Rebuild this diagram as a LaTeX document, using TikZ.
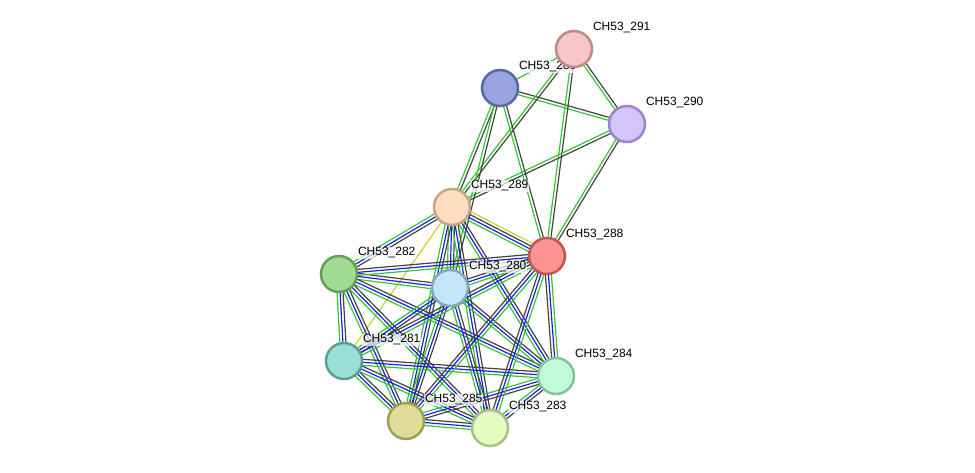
\documentclass[tikz,border=0pt]{standalone}
\usepackage{fontspec}
\setmainfont{Liberation Sans}
\usetikzlibrary{calc}
\definecolor{eg}{HTML}{33C833}
\definecolor{eb}{HTML}{1E1EE6}
\definecolor{ek}{HTML}{444444}
\definecolor{ey}{HTML}{C8D232}
\newcommand\pline[4]{\draw[#4,line width=1.2pt] ($(#1)!#3!90:(#2)$) -- ($(#2)!#3!-90:(#1)$);}
\newcommand\triedge[2]{\pline{#1}{#2}{-3pt}{eg}\pline{#1}{#2}{0pt}{eb}\pline{#1}{#2}{3pt}{ek}}
\newcommand\duoedge[2]{\pline{#1}{#2}{-1.5pt}{eg}\pline{#1}{#2}{1.5pt}{ek}}
\newcommand\quadedge[2]{\pline{#1}{#2}{-4.5pt}{eg}\pline{#1}{#2}{-1.5pt}{eb}\pline{#1}{#2}{1.5pt}{ek}\pline{#1}{#2}{4.5pt}{ey}}
\tikzset{
  prot/.style={circle, minimum size=36pt, inner sep=0pt, line width=2.5pt},
  lab/.style={anchor=west, font=\fontsize{12}{14}\selectfont, fill=white, fill opacity=0.7, text opacity=1, inner sep=0.8pt},
}
\begin{document}
\begin{tikzpicture}[x=1pt,y=-1pt]
\useasboundingbox (0,0) rectangle (975,473);
% positions
\coordinate (p291) at (574,49);
\coordinate (p286) at (500,88);
\coordinate (p290) at (627,124);
\coordinate (p289) at (452,207);
\coordinate (p288) at (547,256);
\coordinate (p282) at (339,274);
\coordinate (p280) at (450,288);
\coordinate (p281) at (344,361);
\coordinate (p284) at (556,376);
\coordinate (p285) at (406,421);
\coordinate (p283) at (490,428);
% edges
\pline{p286}{p291}{0pt}{eg}
\foreach \a/\b in {p286/p290, p291/p290, p291/p289, p291/p288, p290/p289, p290/p288, p286/p289, p286/p280, p286/p288}
  {\duoedge{\a}{\b}}
\quadedge{p289}{p288}
\pline{p289}{p281}{0pt}{ey}
\foreach \a/\b in {p289/p282, p289/p280, p289/p284, p289/p285, p289/p283,
  p282/p280, p282/p281, p282/p284, p282/p285, p282/p283, p282/p288,
  p280/p281, p280/p284, p280/p285, p280/p283, p280/p288,
  p281/p284, p281/p285, p281/p283, p281/p288,
  p284/p285, p284/p283, p284/p288,
  p285/p283, p285/p288, p283/p288}
  {\triedge{\a}{\b}}
% labels
\node[lab] (l291) at ($(p291)+(18,-21)$) {CH53\_291};
\node[lab] (l286) at ($(p286)+(18,-21)$) {CH53\_286};
\node[lab] (l290) at ($(p290)+(18,-21)$) {CH53\_290};
\node[lab] (l289) at ($(p289)+(18,-21)$) {CH53\_289};
\node[lab] (l288) at ($(p288)+(18,-21)$) {CH53\_288};
\node[lab] (l282) at ($(p282)+(18,-21)$) {CH53\_282};
\node[lab] (l280) at ($(p280)+(18,-21)$) {CH53\_280};
\node[lab] (l281) at ($(p281)+(18,-21)$) {CH53\_281};
\node[lab] (l284) at ($(p284)+(18,-21)$) {CH53\_284};
\node[lab] (l285) at ($(p285)+(18,-21)$) {CH53\_285};
\node[lab] (l283) at ($(p283)+(18,-21)$) {CH53\_283};
% nodes
\node[prot, fill={rgb,255:red,246;green,198;blue,198}, draw={rgb,255:red,192;green,136;blue,136}] (n291) at (p291) {};
\node[prot, fill={rgb,255:red,153;green,163;blue,222}, draw={rgb,255:red,90;green,104;blue,168}] (n286) at (p286) {};
\node[prot, fill={rgb,255:red,211;green,196;blue,250}, draw={rgb,255:red,154;green,133;blue,200}] (n290) at (p290) {};
\node[prot, fill={rgb,255:red,253;green,222;blue,192}, draw={rgb,255:red,196;green,166;blue,136}] (n289) at (p289) {};
\node[prot, fill={rgb,255:red,252;green,147;blue,147}, draw={rgb,255:red,192;green,86;blue,86}] (n288) at (p288) {};
\node[prot, fill={rgb,255:red,162;green,220;blue,148}, draw={rgb,255:red,98;green,160;blue,88}] (n282) at (p282) {};
\node[prot, fill={rgb,255:red,195;green,230;blue,250}, draw={rgb,255:red,134;green,168;blue,188}] (n280) at (p280) {};
\node[prot, fill={rgb,255:red,154;green,223;blue,214}, draw={rgb,255:red,92;green,158;blue,150}] (n281) at (p281) {};
\node[prot, fill={rgb,255:red,194;green,251;blue,218}, draw={rgb,255:red,136;green,192;blue,160}] (n284) at (p284) {};
\node[prot, fill={rgb,255:red,222;green,220;blue,151}, draw={rgb,255:red,160;green,158;blue,88}] (n285) at (p285) {};
\node[prot, fill={rgb,255:red,226;green,252;blue,194}, draw={rgb,255:red,168;green,192;blue,136}] (n283) at (p283) {};
\end{tikzpicture}
\end{document}
